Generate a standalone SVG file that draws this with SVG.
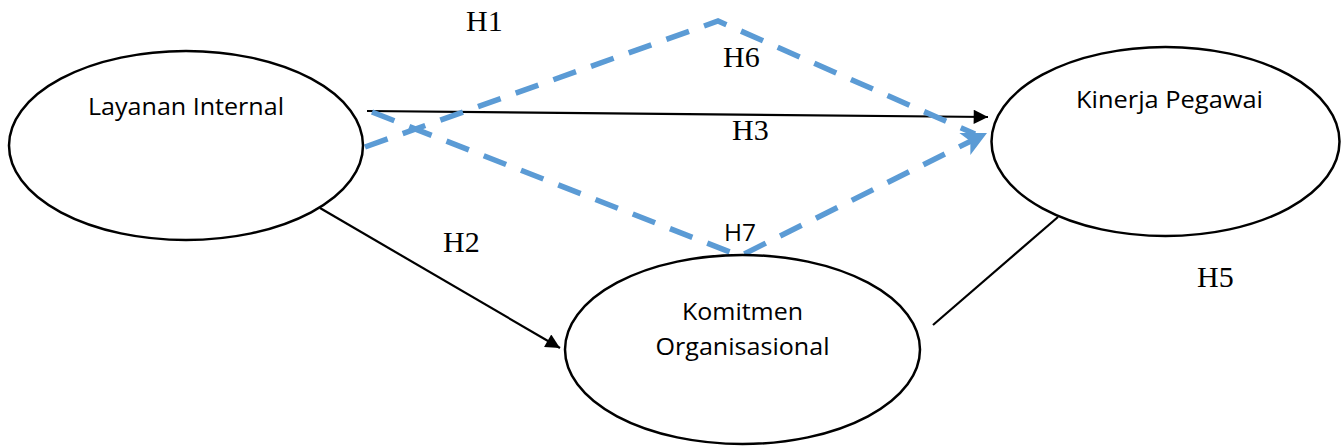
<svg xmlns="http://www.w3.org/2000/svg" width="1341" height="448" viewBox="0 0 1341 448">
<defs>
<style>
.node{fill:#fff;stroke:#000;stroke-width:2.5}
.lbl{font-family:"Open Sans","Liberation Sans",Arial,sans-serif;font-size:24px;fill:#000}
.h{font-family:"Liberation Serif","Times New Roman",serif;font-size:30px;fill:#000}
.blk{stroke:#000;stroke-width:2.2;fill:none}
.blue{stroke:#5B9BD5;stroke-width:5.5;fill:none;stroke-dasharray:24 16}
</style>
<marker id="ab" viewBox="0 0 10 10" refX="10" refY="5" markerWidth="7.5" markerHeight="6.5" markerUnits="strokeWidth" orient="auto"><path d="M0,0L10,5L0,10z" fill="#000"/></marker>
<marker id="bb" viewBox="0 0 10 10" refX="10" refY="5" markerWidth="5" markerHeight="4.5" markerUnits="strokeWidth" orient="auto"><path d="M0,0L10,5L0,10L2.5,5z" fill="#5B9BD5"/></marker>
</defs>
<g id="connectors">
<line class="blk" x1="367" y1="111" x2="988" y2="117" marker-end="url(#ab)"/>
<line class="blk" x1="320" y1="208" x2="560" y2="348" marker-end="url(#ab)"/>
<line class="blk" x1="933" y1="325" x2="1058" y2="217"/>
<polyline class="blue" points="365,147 718,21 975,134"/>
<polyline class="blue" points="372,112 740,256 987,133" marker-end="url(#bb)"/>
</g>
<g id="node-layanan">
<ellipse class="node" cx="186" cy="145.5" rx="177" ry="94.5"/>
<text class="lbl" x="186" y="115" text-anchor="middle" textLength="196" lengthAdjust="spacingAndGlyphs">Layanan Internal</text>
</g>
<g id="node-kinerja">
<ellipse class="node" cx="1165.5" cy="141.5" rx="174" ry="94.5"/>
<text class="lbl" x="1169.5" y="108" text-anchor="middle" textLength="187" lengthAdjust="spacingAndGlyphs">Kinerja Pegawai</text>
</g>
<g id="node-komitmen">
<ellipse class="node" cx="742.5" cy="349.5" rx="177.5" ry="94.5"/>
<text class="lbl" x="742.5" y="320" text-anchor="middle" textLength="121" lengthAdjust="spacingAndGlyphs">Komitmen</text>
<text class="lbl" x="742.5" y="355" text-anchor="middle" textLength="174" lengthAdjust="spacingAndGlyphs">Organisasional</text>
</g>
<g id="labels">
<text class="h" x="466" y="31">H1</text>
<text class="h" x="723" y="67">H6</text>
<text class="h" x="732" y="140">H3</text>
<text class="h" x="443" y="252">H2</text>
<text class="h" x="1197" y="287">H5</text>
<text class="lbl" x="724" y="241" textLength="32" lengthAdjust="spacingAndGlyphs">H7</text>
</g>
</svg>
